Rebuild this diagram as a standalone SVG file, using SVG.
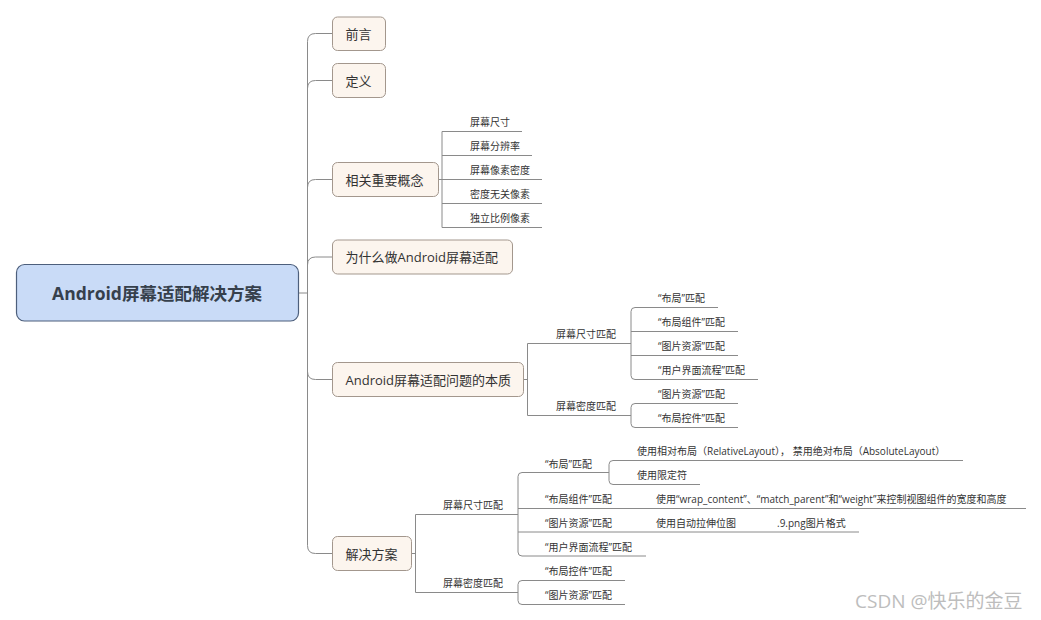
<svg xmlns="http://www.w3.org/2000/svg" width="1041" height="620" viewBox="0 0 1041 620">
<style>
text{font-family:"Open Sans","Noto Sans CJK SC",sans-serif;fill:#333;dominant-baseline:central}
.root rect{fill:#c9dbf7;stroke:#4d5f7c;stroke-width:1.2}
.root text{font-size:17.5px;font-weight:bold;text-anchor:middle;fill:#36404c}
.l1 rect{fill:#fcf5ee;stroke:#a3978d;stroke-width:1}
.l1 text{font-size:13px}
.sub text{font-size:10px}
.sub line,.conn path{stroke:#8a8a8a;stroke-width:1;fill:none}
.wm{font-size:19px;fill:#bdbdbd}
</style>
<rect width="1041" height="620" fill="#fff"/>
<g id="connectors" class="conn">
<path d="M298,293 H307.5"/>
<path d="M307.5,293 V41.5 Q307.5,33.5 315.5,33.5 H332"/>
<path d="M307.5,293 V88.5 Q307.5,80.5 315.5,80.5 H332"/>
<path d="M307.5,293 V187.5 Q307.5,179.5 315.5,179.5 H332"/>
<path d="M307.5,293 V265 Q307.5,257 315.5,257 H332"/>
<path d="M307.5,293 V371.5 Q307.5,379.5 315.5,379.5 H332"/>
<path d="M307.5,293 V545.5 Q307.5,553.5 315.5,553.5 H332"/>
<path d="M438,179.5 H442 M442,131.5 V227.5"/>
<path d="M523,379.5 H527.5 M527.5,343.5 V415.5"/>
<path d="M635,307.5 Q631,307.5 631,311.5 V375.5 Q631,379.5 635,379.5 M631,331.5 H635 M631,355.5 H635"/>
<path d="M635,403.5 Q631,403.5 631,407.5 V423.5 Q631,427.5 635,427.5"/>
<path d="M411.5,553.5 H415.5 M415.5,514.5 V592.5"/>
<path d="M522,472.5 Q518,472.5 518,476.5 V552 Q518,556 522,556 M518,508.5 H522 M518,532 H522"/>
<path d="M613,460.5 Q609,460.5 609,464.5 V480.5 Q609,484.5 613,484.5"/>
<path d="M522,580.5 Q518,580.5 518,584.5 V600.5 Q518,604.5 522,604.5"/>
</g>
<g id="root" class="root"><rect x="16.5" y="264.5" width="282" height="56.5" rx="8"/><text x="157" y="293">Android屏幕适配解决方案</text></g>
<g id="n-qianyan" class="l1"><rect x="332.5" y="17" width="53" height="33.5" rx="5"/><text x="345.5" y="33.5">前言</text></g>
<g id="n-dingyi" class="l1"><rect x="332.5" y="63.5" width="53" height="34" rx="5"/><text x="345.5" y="80.5">定义</text></g>
<g id="n-gainian" class="l1"><rect x="332.5" y="162.5" width="106" height="34" rx="5"/><text x="345.5" y="179.5">相关重要概念</text></g>
<g id="n-weishenme" class="l1"><rect x="332.5" y="240" width="180" height="34" rx="5"/><text x="345.5" y="257">为什么做Android屏幕适配</text></g>
<g id="n-benzhi" class="l1"><rect x="332.5" y="362.5" width="191" height="34" rx="5"/><text x="345.5" y="379.5">Android屏幕适配问题的本质</text></g>
<g id="n-fangan" class="l1"><rect x="332.5" y="536.5" width="79" height="34" rx="5"/><text x="345.5" y="553.5">解决方案</text></g>

<g id="g-chicun" class="sub"><text x="470" y="121.5">屏幕尺寸</text><line x1="442" y1="131.5" x2="522" y2="131.5"/></g>
<g id="g-fenbianlv" class="sub"><text x="470" y="145.5">屏幕分辨率</text><line x1="442" y1="155.5" x2="532" y2="155.5"/></g>
<g id="g-midu" class="sub"><text x="470" y="169.5">屏幕像素密度</text><line x1="442" y1="179.5" x2="542" y2="179.5"/></g>
<g id="g-dp" class="sub"><text x="470" y="193.5">密度无关像素</text><line x1="442" y1="203.5" x2="542" y2="203.5"/></g>
<g id="g-sp" class="sub"><text x="470" y="217.5">独立比例像素</text><line x1="442" y1="227.5" x2="542" y2="227.5"/></g>

<g id="b-chicun" class="sub"><text x="556" y="333.5">屏幕尺寸匹配</text><line x1="527.5" y1="343.5" x2="631" y2="343.5"/></g>
<g id="b-midu" class="sub"><text x="556" y="405.5">屏幕密度匹配</text><line x1="527.5" y1="415.5" x2="631" y2="415.5"/></g>
<g id="b-buju" class="sub"><text x="658" y="297.5">“布局”匹配</text><line x1="635" y1="307.5" x2="718" y2="307.5"/></g>
<g id="b-bujuzujian" class="sub"><text x="658" y="321.5">“布局组件”匹配</text><line x1="635" y1="331.5" x2="738" y2="331.5"/></g>
<g id="b-tupian1" class="sub"><text x="658" y="345.5">“图片资源”匹配</text><line x1="635" y1="355.5" x2="738" y2="355.5"/></g>
<g id="b-liucheng" class="sub"><text x="658" y="369.5">“用户界面流程”匹配</text><line x1="635" y1="379.5" x2="758" y2="379.5"/></g>
<g id="b-tupian2" class="sub"><text x="658" y="393.5">“图片资源”匹配</text><line x1="635" y1="403.5" x2="738" y2="403.5"/></g>
<g id="b-kongjian" class="sub"><text x="658" y="417.5">“布局控件”匹配</text><line x1="635" y1="427.5" x2="738" y2="427.5"/></g>

<g id="s-chicun" class="sub"><text x="443" y="505">屏幕尺寸匹配</text><line x1="415.5" y1="514.5" x2="518" y2="514.5"/></g>
<g id="s-midu" class="sub"><text x="443" y="582.5">屏幕密度匹配</text><line x1="415.5" y1="592.5" x2="518" y2="592.5"/></g>
<g id="s-buju" class="sub"><text x="545" y="463.5">“布局”匹配</text><line x1="522" y1="472.5" x2="609" y2="472.5"/></g>
<g id="s-relative" class="sub"><text x="637" y="450.5">使用相对布局（RelativeLayout），  禁用绝对布局（AbsoluteLayout）</text><line x1="613" y1="460.5" x2="963" y2="460.5"/></g>
<g id="s-xianding" class="sub"><text x="637" y="474.5">使用限定符</text><line x1="613" y1="484.5" x2="700" y2="484.5"/></g>
<g id="s-bujuzujian" class="sub"><text x="545" y="499">“布局组件”匹配</text><line x1="522" y1="508.5" x2="629" y2="508.5"/></g>
<g id="s-wrap" class="sub"><text x="656" y="499">使用“wrap_content”、“match_parent”和“weight”来控制视图组件的宽度和高度</text><line x1="629" y1="508.5" x2="1026" y2="508.5"/></g>
<g id="s-tupian" class="sub"><text x="545" y="522.5">“图片资源”匹配</text><line x1="522" y1="532" x2="629" y2="532"/></g>
<g id="s-lashen" class="sub"><text x="656" y="522.5">使用自动拉伸位图</text><line x1="629" y1="532" x2="750" y2="532"/></g>
<g id="s-9png" class="sub"><text x="777" y="522.5">.9.png图片格式</text><line x1="750" y1="532" x2="859" y2="532"/></g>
<g id="s-liucheng" class="sub"><text x="545" y="546.5">“用户界面流程”匹配</text><line x1="522" y1="556" x2="646" y2="556"/></g>
<g id="s-kongjian" class="sub"><text x="545" y="570.5">“布局控件”匹配</text><line x1="522" y1="580.5" x2="625" y2="580.5"/></g>
<g id="s-tupian2" class="sub"><text x="545" y="594.5">“图片资源”匹配</text><line x1="522" y1="604.5" x2="625" y2="604.5"/></g>

<text class="wm" x="855" y="601">CSDN @快乐的金豆</text>
</svg>
